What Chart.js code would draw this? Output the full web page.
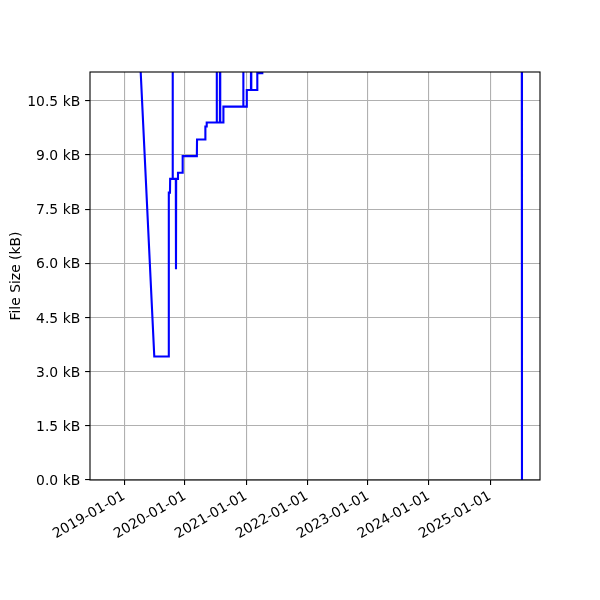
<!DOCTYPE html>
<html>
<head>
<meta charset="utf-8">
<script src="https://cdn.jsdelivr.net/npm/chart.js@4.4.1/dist/chart.umd.min.js"></script>
<style>
  body { margin: 0; background: #fff; }
</style>
</head>
<body>
<canvas id="sizeChart" width="600" height="600"></canvas>
<script>
// file size history (kB)
const commitDates = [
    '2019-03-24', '2019-07-01', '2019-09-25', '2019-09-26', '2019-10-03', '2019-10-04',
    '2019-10-18', '2019-10-19', '2019-10-20', '2019-11-07', '2019-11-08', '2019-11-09',
    '2019-11-19', '2019-11-20', '2019-12-17', '2019-12-18', '2020-03-12', '2020-03-13',
    '2020-05-01', '2020-05-02', '2020-05-09', '2020-05-10', '2020-07-08', '2020-07-09',
    '2020-07-10', '2020-07-28', '2020-07-29', '2020-07-30', '2020-08-17', '2020-08-18',
    '2020-12-14', '2020-12-15', '2020-12-16', '2021-01-04', '2021-01-05', '2021-01-30',
    '2021-01-31', '2021-02-01', '2021-03-08', '2021-03-09', '2021-04-07', '2021-04-08',
    '2025-07-10', '2025-07-11'
];
const fileSizes = [
    13.0, 3.42, 3.42, 7.96, 7.96, 8.34,
    8.34, 20.0, 8.34, 8.34, 5.84, 8.34,
    8.34, 8.51, 8.51, 8.97, 8.97, 9.43,
    9.43, 9.79, 9.79, 9.90, 9.90, 20.0,
    9.90, 9.90, 20.0, 9.90, 9.90, 10.34,
    10.34, 20.0, 10.34, 10.34, 10.80, 10.80,
    20.0, 10.80, 10.80, 11.27, 11.27, 12.0,
    12.0, 0.0
];
const xTickLabels = ['2019-01-01', '2020-01-01', '2021-01-01', '2022-01-01', '2023-01-01', '2024-01-01', '2025-01-01'];
const yTickValues = [0, 1.5, 3.0, 4.5, 6.0, 7.5, 9.0, 10.5];

const xMin = '2018-06-11';
const xMax = '2025-10-27';
const yMax = 11.3;

const points = commitDates.map((d, i) => ({ x: Date.parse(d), y: fileSizes[i] }));

Chart.defaults.font.family = '"DejaVu Sans", sans-serif';
Chart.defaults.font.size = 13.9;
Chart.defaults.color = '#000';

// matplotlib draws a frame on all four sides
const framePlugin = {
    id: 'frame',
    afterDatasetsDraw(chart) {
        const { ctx, chartArea: a } = chart;
        ctx.save();
        ctx.strokeStyle = '#000';
        ctx.lineWidth = 1.1;
        ctx.strokeRect(a.left, a.top, a.right - a.left, a.bottom - a.top);
        ctx.restore();
    }
};

new Chart(document.getElementById('sizeChart'), {
    type: 'line',
    data: {
        datasets: [{
            label: 'File Size',
            data: points,
            borderColor: '#0000ff',
            borderWidth: 2.1,
            pointRadius: 0,
            tension: 0,
            fill: false
        }]
    },
    options: {
        responsive: false,
        animation: false,
        layout: { padding: { top: 72, right: 60, left: 0, bottom: 0 } },
        plugins: {
            legend: { display: false },
            tooltip: { enabled: false }
        },
        scales: {
            x: {
                type: 'linear',
                min: Date.parse(xMin),
                max: Date.parse(xMax),
                afterBuildTicks: scale => {
                    scale.ticks = xTickLabels.map(s => ({ value: Date.parse(s) }));
                },
                afterFit: scale => { scale.height = 120; },
                border: { display: false },
                grid: { color: '#b0b0b0', lineWidth: 1.1, tickColor: '#000', tickLength: 4.9 },
                ticks: {
                    autoSkip: false,
                    minRotation: 30,
                    maxRotation: 30,
                    padding: 3,
                    callback: value => new Date(value).toISOString().slice(0, 10)
                }
            },
            y: {
                min: 0,
                max: yMax,
                afterBuildTicks: scale => {
                    scale.ticks = yTickValues.map(v => ({ value: v }));
                },
                afterFit: scale => { scale.width = 90; },
                border: { display: false },
                grid: { color: '#b0b0b0', lineWidth: 1.1, tickColor: '#000', tickLength: 4.9 },
                ticks: {
                    padding: 4.9,
                    labelOffset: 1.5,
                    callback: value => value.toFixed(1) + ' kB'
                },
                title: {
                    display: true,
                    text: 'File Size (kB)',
                    padding: { top: 8, bottom: 0 }
                }
            }
        }
    },
    plugins: [framePlugin]
});
</script>
</body>
</html>
